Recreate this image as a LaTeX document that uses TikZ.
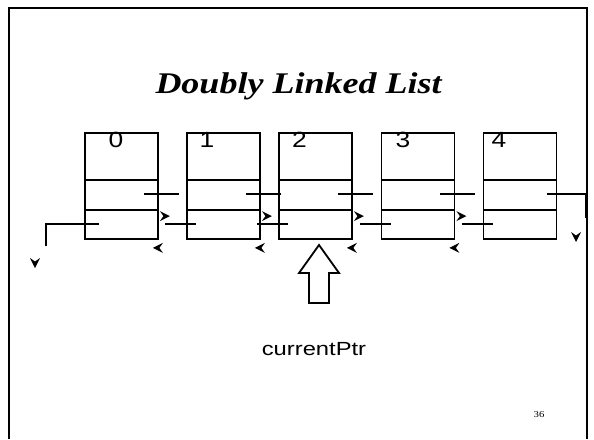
\documentclass[tikz,border=0pt]{standalone}
\usepackage{fontspec}
\setmainfont{Liberation Serif}
\setsansfont{Liberation Sans}
\usepackage{graphicx}
\usepackage{tikz}
\usetikzlibrary{calc}

\newcommand{\wide}[1]{\scalebox{1.2}[1]{#1}}

\tikzset{
  cell/.style={draw, rectangle, minimum width=73pt, minimum height=106pt,
    inner sep=0pt, line width=1.8pt},
  link/.style={line width=1.8pt},
  idx/.style={font=\sffamily\fontsize{22}{22}\selectfont, inner sep=0pt},
  chev/.pic={\fill (0,0) -- (-10,-5) -- (-6.5,0) -- (-10,5) -- cycle;}
}

\begin{document}
\begin{tikzpicture}[x=1pt,y=-1pt]
  \useasboundingbox (0,0) rectangle (594,439);

  % slide frame
  \draw[line width=1.9pt] (9,439) -- (9,8) -- (587,8) -- (587,439);

  % title
  \node (title) at (298.5,86) {\fontsize{30}{30}\selectfont\bfseries\itshape\wide{Doubly Linked List}};

  % the five list nodes
  \foreach \i/\x/\lx in {0/121.5/116, 1/223.5/207, 2/315.5/299.5, 3/418/403, 4/520/499} {
    \node[cell] (n\i) at (\x,186) {};
    \draw[link] ($(n\i.north west)+(0,48)$) -- ($(n\i.north east)+(0,48)$);
    \draw[link] ($(n\i.north west)+(0,78)$) -- ($(n\i.north east)+(0,78)$);
    \node[idx] (l\i) at (\lx,140) {\wide{\i}};
  }

  % next pointers
  \foreach \i in {0,1,2,3} {
    \draw[link] ($(n\i.north east)+(-15,62)$) -- ($(n\i.north east)+(20,62)$);
    \pic at ($(n\i.north east)+(11,84)$) {chev};
  }
  \coordinate (nilA) at (586,218);
  \draw[link] ($(n4.north east)+(-10,62)$) -| (nilA);
  \pic[rotate=-90] at (576,242) {chev};

  % prev pointers
  \foreach \i in {1,2,3,4} {
    \draw[link] ($(n\i.north west)+(10,92)$) -- ($(n\i.north west)+(-21,92)$);
  }
  \foreach \i in {0,1,2,3} {
    \pic[rotate=180] at ($(n\i.south east)+(-6,8)$) {chev};
  }
  \coordinate (nilB) at (46,246);
  \draw[link] ($(n0.north west)+(15,92)$) -| (nilB);
  \pic[rotate=-90] at (35,268) {chev};

  % current pointer
  \node[font=\sffamily\fontsize{19}{19}\selectfont] (cur) at (314,349) {\scalebox{1.25}[1]{currentPtr}};
  \draw[line width=1.8pt] (319,245) -- (339,273) -- (329,273) -- (329,303)
    -- (309,303) -- (309,273) -- (299,273) -- cycle;

  % page number
  \node[font=\fontsize{9}{9}\selectfont] (pg) at (539,415) {\wide{36}};
\end{tikzpicture}
\end{document}
